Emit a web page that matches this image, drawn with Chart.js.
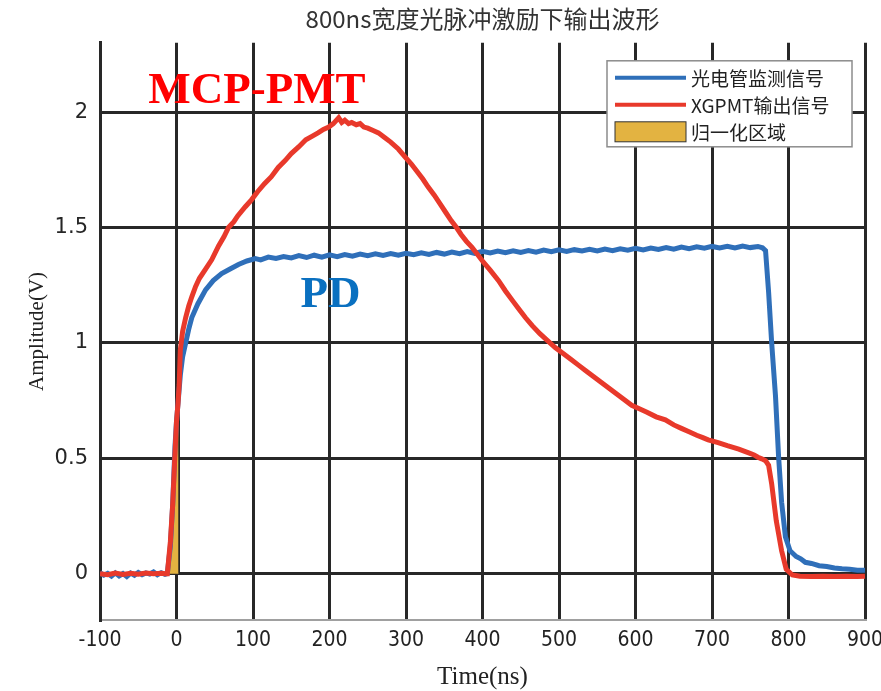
<!DOCTYPE html>
<html>
<head>
<meta charset="utf-8">
<script src="https://cdn.jsdelivr.net/npm/chart.js@4/dist/chart.umd.min.js"></script>
<style>
html,body{margin:0;padding:0;background:#fff;}
#wrap{width:881px;height:691px;}
</style>
</head>
<body>
<div id="wrap"><canvas id="c" width="881" height="691"></canvas></div>
<script>
// ---------- texts ----------
const titleText = '800ns宽度光脉冲激励下输出波形';
const xAxisTitle = 'Time(ns)';
const yAxisTitle = 'Amplitude(V)';
const seriesLabels = ['光电管监测信号', 'XGPMT输出信号', '归一化区域'];

// ---------- tick values ----------
const xTicks = [-100, 0, 100, 200, 300, 400, 500, 600, 700, 800, 900];
const yTicks = [0, 0.5, 1, 1.5, 2];

// ---------- PD (photodiode) signal ----------
const pdTime = [
  -100,-95,-90,-85,-80,-75,-70,-65,-60,-55,-50,-45,-40,-35,-30,-25,-20,-15,-12,
  -8,-5,-2,0,2,3.5,5,8,12,16,20,28,38,48,59,70,81,92,103,
  110,120,130,140,150,160,170,180,190,200,
  210,220,230,240,250,260,270,280,290,300,
  310,320,330,340,350,360,370,380,390,400,
  410,420,430,440,450,460,470,480,490,500,
  510,520,530,540,550,560,570,580,590,600,
  610,620,630,640,650,660,670,680,690,700,
  710,720,730,740,750,760,
  766,770,774,778,783,787,791,796,802,810,816,822,830,840,850,860,870,880,890,900
];
const pdAmp = [
  0.005,-0.006,0.002,-0.01,0.004,-0.009,0.001,-0.012,0.003,-0.006,0.006,-0.004,0.004,-0.001,0.008,-0.004,0.005,-0.002,0.001,
  0.12,0.30,0.55,0.66,0.74,0.80,0.86,0.94,1.0,1.06,1.11,1.17,1.23,1.27,1.30,1.32,1.34,1.355,1.365,
  1.36,1.372,1.366,1.374,1.368,1.378,1.37,1.38,1.372,1.382,
  1.374,1.383,1.376,1.385,1.378,1.386,1.379,1.387,1.38,1.388,
  1.382,1.39,1.383,1.392,1.385,1.394,1.387,1.396,1.388,1.397,
  1.39,1.398,1.391,1.399,1.392,1.4,1.393,1.402,1.395,1.403,
  1.396,1.404,1.398,1.406,1.399,1.407,1.4,1.408,1.402,1.41,
  1.403,1.411,1.405,1.413,1.406,1.415,1.408,1.416,1.41,1.418,
  1.411,1.419,1.412,1.42,1.413,1.418,
  1.412,1.40,1.22,1.0,0.77,0.51,0.31,0.16,0.10,0.075,0.065,0.05,0.045,0.035,0.032,0.025,0.022,0.02,0.016,0.015
];

// ---------- MCP-PMT output signal ----------
const pmtTime = [
  -100,-90,-80,-70,-60,-50,-40,-30,-20,-15,-12,
  -8,-5,-2,0,2,3.5,5,8,12,16,
  20,25,30,38,46,55,62,68,75,80,
  90,98,106,115,124,133,142,150,160,169,
  177,185,192,199,205,212,216,220,225,229,
  235,240,245,250,257,264,272,280,290,299,
  307,315,322,329,337,345,352,359,366,372,
  379,386,393,400,410,421,430,440,448,456,
  465,475,485,495,505,515,525,535,545,555,
  565,575,585,595,605,615,627,639,650,660,
  670,680,688,695,708,720,735,748,755,760,
  765,770,774,778,784,791,797,805,815,830,
  845,860,875,890,900
];
const pmtAmp = [
  0.0,-0.004,0.003,-0.003,0.002,-0.002,0.003,0.0,0.002,0.0,0.0,
  0.14,0.30,0.52,0.66,0.74,0.82,0.97,1.05,1.11,1.16,
  1.20,1.245,1.28,1.32,1.36,1.42,1.46,1.50,1.525,1.55,
  1.59,1.62,1.655,1.69,1.72,1.76,1.79,1.82,1.85,1.88,
  1.895,1.91,1.925,1.935,1.95,1.975,1.955,1.965,1.95,1.955,
  1.945,1.95,1.935,1.93,1.92,1.91,1.89,1.87,1.84,1.805,
  1.775,1.74,1.71,1.675,1.64,1.60,1.565,1.53,1.50,1.47,
  1.44,1.415,1.385,1.355,1.315,1.27,1.225,1.18,1.145,1.11,
  1.075,1.04,1.01,0.98,0.955,0.93,0.905,0.88,0.855,0.83,
  0.805,0.78,0.755,0.73,0.715,0.70,0.68,0.667,0.645,0.63,
  0.615,0.60,0.59,0.58,0.568,0.555,0.54,0.524,0.515,0.505,
  0.498,0.49,0.47,0.39,0.23,0.10,0.02,-0.005,-0.01,-0.012,
  -0.01,-0.012,-0.01,-0.012,-0.01
];

// ---------- normalisation region ----------
const regionTime = [-13, -8, -5, -2, 0, 2, 3.5, 3.5];
const regionAmp  = [0, 0.14, 0.30, 0.52, 0.66, 0.74, 0.80, 0];

// ---------- annotations ----------
const noteTexts = ['MCP-PMT', 'PD'];
const noteX = [-37, 162];
const noteY = [2.04, 1.156];

// ---------- styles ----------
const blue = '#2f6fb9';
const red = '#e8392b';
const gold = '#e3b341';
const gridDark = '#282828';
const noteColors = ['#ff0000', '#0a70c0'];

const toPts = (xs, ys) => xs.map((x, i) => ({x: x, y: ys[i]}));

const notesPlugin = {
  id: 'notes',
  afterDatasetsDraw(chart) {
    const ctx = chart.ctx;
    const xs = chart.scales.x, ys = chart.scales.y;
    ctx.save();
    ctx.font = 'bold 45px "Liberation Serif", serif';
    ctx.textBaseline = 'alphabetic';
    ctx.textAlign = 'left';
    noteTexts.forEach((t, i) => {
      ctx.fillStyle = noteColors[i];
      ctx.fillText(t, xs.getPixelForValue(noteX[i]), ys.getPixelForValue(noteY[i]));
    });
    ctx.restore();
  }
};

const legendPlugin = {
  id: 'boxLegend',
  afterDraw(chart) {
    const ctx = chart.ctx, ca = chart.chartArea;
    const x0 = ca.right - 258, y0 = ca.top + 18, w = 245, h = 86;
    ctx.save();
    ctx.fillStyle = '#ffffff';
    ctx.fillRect(x0, y0, w, h);
    ctx.strokeStyle = '#8c8c8c';
    ctx.lineWidth = 1.5;
    ctx.strokeRect(x0, y0, w, h);
    const ds = chart.data.datasets;
    const rows = [17, 44, 71];
    ctx.font = '19px "Noto Sans CJK SC", sans-serif';
    ctx.textBaseline = 'middle';
    ctx.textAlign = 'left';
    ds.forEach((d, i) => {
      const cy = y0 + rows[i];
      if (d.fill) {
        ctx.fillStyle = d.backgroundColor;
        ctx.fillRect(x0 + 8, cy - 10, 71, 20);
        ctx.strokeStyle = '#333';
        ctx.lineWidth = 1;
        ctx.strokeRect(x0 + 8, cy - 10, 71, 20);
      } else {
        ctx.strokeStyle = d.borderColor;
        ctx.lineWidth = 4;
        ctx.beginPath();
        ctx.moveTo(x0 + 8, cy);
        ctx.lineTo(x0 + 79, cy);
        ctx.stroke();
      }
      ctx.fillStyle = '#222';
      ctx.fillText(d.label, x0 + 84, cy + 1);
    });
    ctx.restore();
  }
};

new Chart(document.getElementById('c'), {
  type: 'line',
  data: {
    datasets: [
      {
        label: seriesLabels[0],
        data: toPts(pdTime, pdAmp),
        borderColor: blue,
        borderWidth: 5,
        pointRadius: 0,
        fill: false,
        tension: 0,
        order: 1
      },
      {
        label: seriesLabels[1],
        data: toPts(pmtTime, pmtAmp),
        borderColor: red,
        borderWidth: 5,
        pointRadius: 0,
        fill: false,
        tension: 0,
        order: 0
      },
      {
        label: seriesLabels[2],
        data: toPts(regionTime, regionAmp),
        borderColor: '#222',
        borderWidth: 1,
        backgroundColor: gold,
        pointRadius: 0,
        fill: 'origin',
        tension: 0,
        order: 2
      }
    ]
  },
  options: {
    responsive: false,
    animation: false,
    events: [],
    layout: {padding: {left: 0, right: 16, top: 0, bottom: 0}},
    plugins: {
      legend: {display: false},
      tooltip: {enabled: false},
      title: {
        display: true,
        text: titleText,
        fullSize: false,
        color: '#333',
        font: {family: '"Noto Sans CJK SC", sans-serif', size: 24, weight: 'normal'},
        padding: {top: 4, bottom: 10}
      }
    },
    scales: {
      x: {
        type: 'linear',
        min: -100,
        max: 900,
        afterBuildTicks: s => { s.ticks = xTicks.map(v => ({value: v})); },
        afterFit: s => { s.height = 71; s.paddingLeft = 0; s.paddingRight = 0; },
        grid: {color: gridDark, lineWidth: 3, drawTicks: false},
        border: {display: true, color: '#a0a0a0', width: 2},
        ticks: {
          color: '#222',
          padding: 8,
          maxRotation: 0,
          autoSkip: false,
          font: {family: '"DejaVu Sans Condensed", "Liberation Sans Narrow", sans-serif', size: 21},
          callback: v => String(v)
        },
        title: {
          display: true,
          text: xAxisTitle,
          color: '#222',
          font: {family: '"Liberation Serif", serif', size: 25, lineHeight: 1},
          padding: {top: 0, bottom: 1}
        }
      },
      y: {
        type: 'linear',
        min: -0.2,
        max: 2.3,
        afterBuildTicks: s => { s.ticks = yTicks.map(v => ({value: v})); },
        afterFit: s => { s.width = 100; },
        grid: {color: gridDark, lineWidth: 3, drawTicks: false},
        border: {display: true, color: gridDark, width: 3},
        ticks: {
          color: '#262626',
          padding: 12,
          font: {family: '"DejaVu Sans", sans-serif', size: 21},
          callback: v => String(v)
        },
        title: {
          display: true,
          text: yAxisTitle,
          color: '#222',
          font: {family: '"Liberation Serif", serif', size: 21, lineHeight: 1.2},
          padding: {top: 25, bottom: 0}
        }
      }
    }
  },
  plugins: [notesPlugin, legendPlugin]
});
</script>
</body>
</html>
